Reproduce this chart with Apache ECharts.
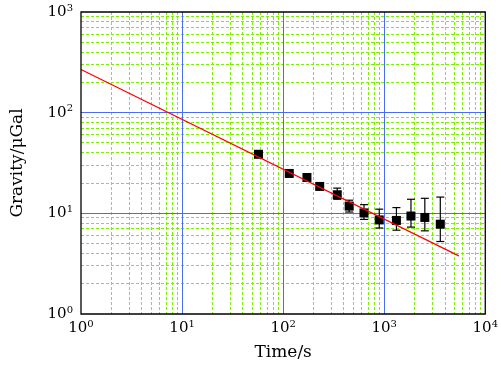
<!DOCTYPE html>
<html><head><meta charset="utf-8">
<script src="https://cdn.jsdelivr.net/npm/echarts@6/dist/echarts.min.js"></script>
<style>html,body{margin:0;padding:0;background:#fff}#c{width:501px;height:366px}</style>
</head><body><div id="c"></div>
<script>
const times = [57, 115, 172, 230, 343, 450, 631, 893, 1321, 1840, 2523, 3589];
const gravity = [38.6, 24.9, 22.7, 18.5, 15.3, 11.8, 10.1, 8.6, 8.5, 9.4, 9.1, 7.8];
const errLow = [37.5, 24.2, 21.8, 17.6, 13.8, 10.3, 8.7, 7.15, 6.8, 7.3, 6.7, 5.25];
const errHigh = [39.8, 25.6, 23.6, 19.4, 17.8, 13.5, 12.2, 11.0, 11.4, 13.8, 14.1, 14.5];
const fitTimes = [1, 5470];
const fitGravity = [268, 3.78];
const majorX = [10, 100, 1000];
const majorY = [10, 100];
const minorX = [2,3,4,5,6,7,8,9,20,30,40,50,60,70,80,90,200,300,400,500,600,700,800,900,2000,3000,4000,5000,6000,7000,8000,9000];
const minorY = [2,3,4,5,6,7,8,9,20,30,40,50,60,70,80,90,200,300,400,500,600,700,800,900];

const FONT = 'DejaVu Serif';
const chart = echarts.init(document.getElementById('c'), null, {renderer: 'canvas'});
function expLabel(v) {
  const e = Math.round(Math.log10(v));
  return '{b|10}{s|' + e + '}';
}
const rich = {
  b: {fontSize: 15, fontFamily: FONT, color: '#000'},
  s: {fontSize: 10, fontFamily: FONT, color: '#000', padding: [0, 0, 8, 0]}
};
const fitData = fitTimes.map((t, i) => [t, fitGravity[i]]);
// grid-line items: [x, y, orientation] (0 = vertical, 1 = horizontal)
const minorItems = minorX.map(v => [v, 1, 0]).concat(minorY.map(v => [1, v, 1]));
const majorItems = majorX.map(v => [v, 1, 0]).concat(majorY.map(v => [1, v, 1]));

function gridLineRenderer(style) {
  return function(params, api) {
    const cs = params.coordSys;
    const p = api.coord([api.value(0), api.value(1)]);
    let shape;
    if (api.value(2) === 0) {
      const x = Math.floor(p[0]) + 0.5;
      shape = {x1: x, y1: cs.y, x2: x, y2: cs.y + cs.height};
    } else {
      const y = Math.floor(p[1]) + 0.5;
      shape = {x1: cs.x, y1: y, x2: cs.x + cs.width, y2: y};
    }
    return {type: 'line', shape: shape, style: style, silent: true};
  };
}

chart.setOption({
  animation: false,
  grid: {left: 81, top: 12, width: 408, height: 303, show: true, borderColor: '#000', borderWidth: 1.3, z: 10, backgroundColor: 'transparent'},
  xAxis: {
    type: 'log', logBase: 10, min: 1, max: 10000,
    name: 'Time/s', nameLocation: 'middle', nameGap: 30,
    nameTextStyle: {fontFamily: FONT, fontSize: 17, color: '#000'},
    axisLine: {show: false}, axisTick: {show: false}, splitLine: {show: false},
    axisLabel: {formatter: expLabel, rich: rich, margin: 5}
  },
  yAxis: {
    type: 'log', logBase: 10, min: 1, max: 1000,
    name: 'Gravity/\u03bcGal', nameLocation: 'middle', nameGap: 55,
    nameTextStyle: {fontFamily: FONT, fontSize: 17, color: '#000'},
    axisLine: {show: false}, axisTick: {show: false}, splitLine: {show: false},
    axisLabel: {formatter: expLabel, rich: rich, margin: 8}
  },
  series: [
    {
      type: 'custom', z: 1, silent: true, clip: false,
      data: minorItems,
      renderItem: gridLineRenderer({stroke: '#7cf000', lineWidth: 1, lineDash: [3, 2]})
    },
    {
      type: 'custom', z: 1.5, silent: true, clip: false,
      data: majorItems,
      renderItem: gridLineRenderer({stroke: '#4a6cf0', lineWidth: 1})
    },
    {
      type: 'custom', z: 3,
      data: times.map((t, i) => [t, errLow[i], errHigh[i]]),
      renderItem: function(params, api) {
        const x = api.value(0);
        const p1 = api.coord([x, api.value(2)]);
        const p2 = api.coord([x, api.value(1)]);
        const w = 4;
        const st = {stroke: '#000', lineWidth: 1.2};
        return {type: 'group', children: [
          {type: 'line', shape: {x1: p1[0], y1: p1[1], x2: p2[0], y2: p2[1]}, style: st},
          {type: 'line', shape: {x1: p1[0]-w, y1: p1[1], x2: p1[0]+w, y2: p1[1]}, style: st},
          {type: 'line', shape: {x1: p2[0]-w, y1: p2[1], x2: p2[0]+w, y2: p2[1]}, style: st}
        ]};
      }
    },
    {
      type: 'scatter', z: 4, symbol: 'rect', symbolSize: 9,
      itemStyle: {color: '#000', opacity: 1},
      data: times.map((t, i) => [t, gravity[i]])
    },
    {
      type: 'line', z: 5, data: fitData, symbol: 'none',
      lineStyle: {color: '#ff0000', width: 1.2}
    }
  ]
});
</script></body></html>
